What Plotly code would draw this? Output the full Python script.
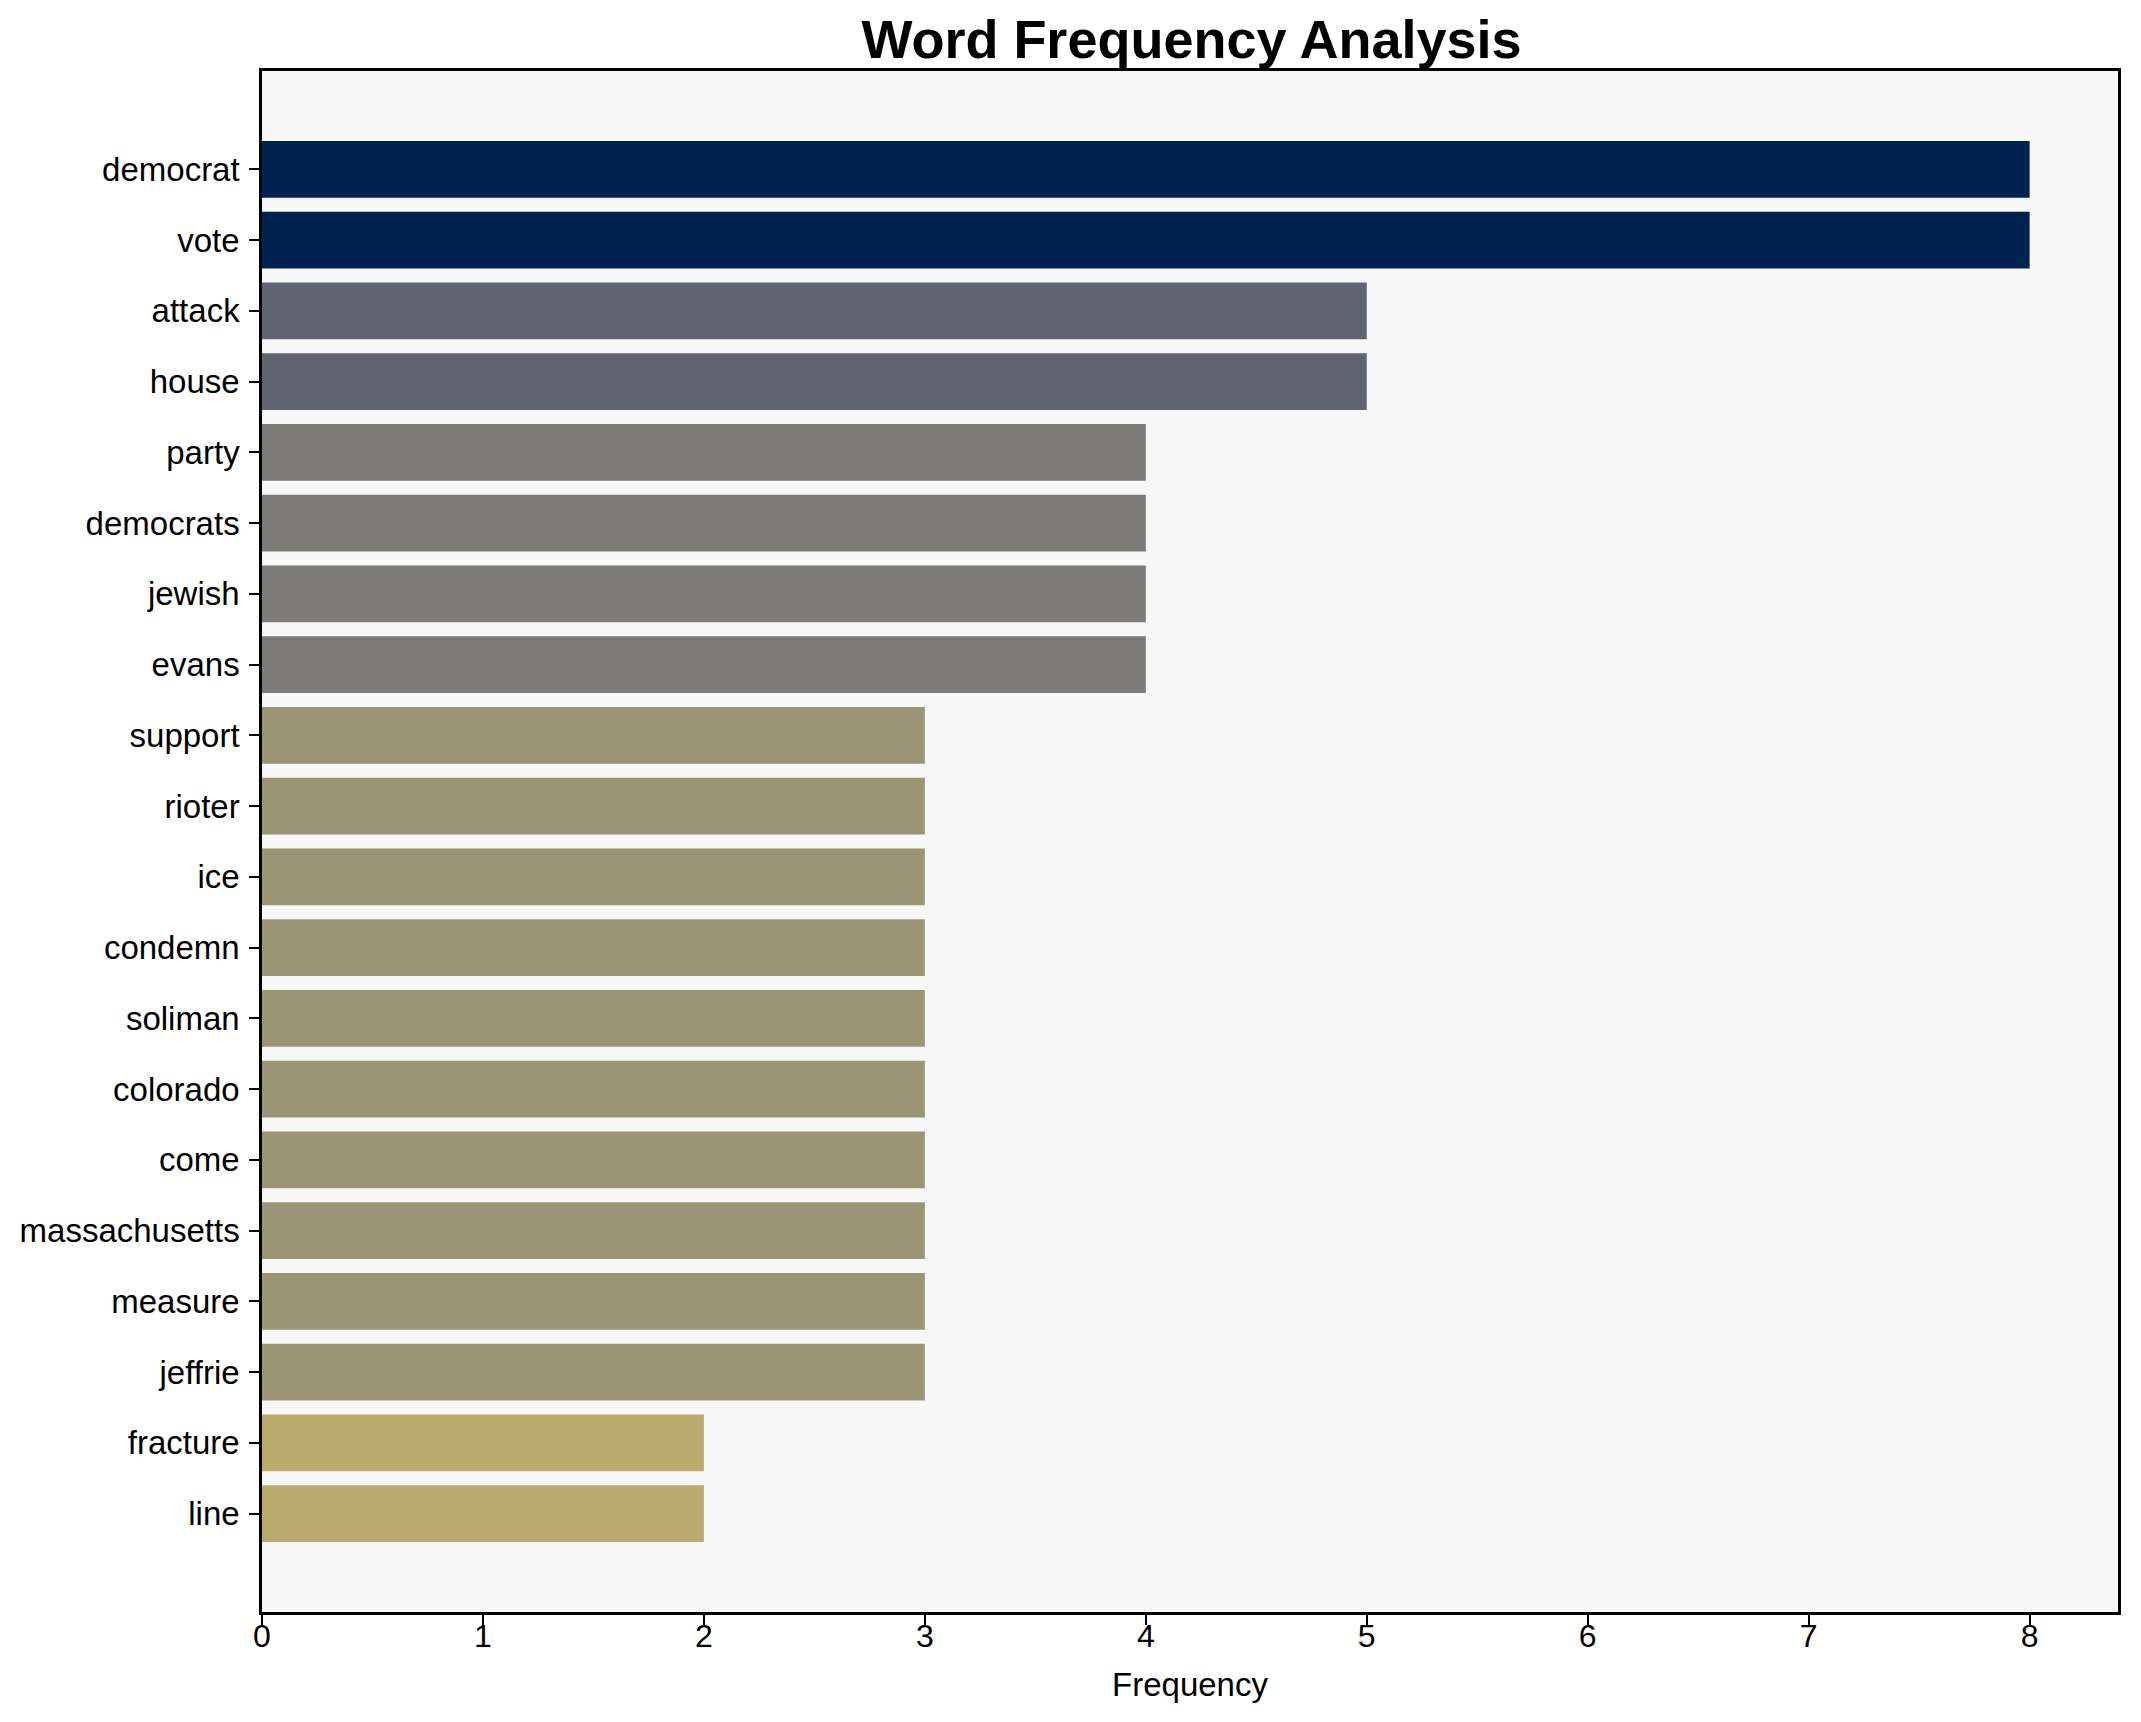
import plotly.graph_objects as go

words = ["democrat", "vote", "attack", "house", "party", "democrats", "jewish", "evans",
         "support", "rioter", "ice", "condemn", "soliman", "colorado", "come",
         "massachusetts", "measure", "jeffrie", "fracture", "line"]
freqs = [8, 8, 5, 5, 4, 4, 4, 4, 3, 3, 3, 3, 3, 3, 3, 3, 3, 3, 2, 2]

# colour per frequency (cividis, reversed, sampled from reference)
color_by_value = {8: "#00224e", 5: "#5f6470", 4: "#7c7b78", 3: "#9b9475", 2: "#b9ac6d"}
colors = [color_by_value[v] for v in freqs]

# page has an 8px body margin; compensate so the figure lands where the reference is
OFF = 8
W, H = 2141 - 2 * OFF, 1722 - 2 * OFF
L, T = 262 - OFF, 71 - OFF
R = (W + OFF) - 2121
B = (H + OFF) - 1612
FONT = "Liberation Sans, Arial, sans-serif"

fig = go.Figure(go.Bar(
    x=freqs, y=list(range(len(words))), orientation="h",
    marker=dict(color=colors, line=dict(width=0)),
    width=0.8,
))

n = len(words)
fig.update_layout(
    width=W, height=H,
    margin=dict(l=L, r=R, t=T, b=B, pad=0),
    paper_bgcolor="white", plot_bgcolor="#f7f7f7",
    showlegend=False,
    font=dict(family=FONT, color="black"),
    title=dict(text="<b>Word Frequency Analysis</b>", x=(L + (W - R)) / 2 / W, xanchor="center",
               y=1 - (39 - OFF) / H, yanchor="middle", yref="container",
               font=dict(size=54, family=FONT, color="black")),
    bargap=0.2,
)
fig.update_xaxes(
    range=[0, 8.4], tickmode="array", tickvals=list(range(0, 9)),
    ticks="outside", ticklen=10, tickwidth=2, tickcolor="black",
    tickfont=dict(size=32, family=FONT, color="black"),
    ticklabelstandoff=-16,
    showline=True, linecolor="black", linewidth=2.5, mirror=True,
    showgrid=False, zeroline=False,
    title=dict(text="Frequency", font=dict(size=33, family=FONT, color="black"), standoff=20),
)
fig.update_yaxes(
    range=[n - 1 + 1.39, -1.39], tickmode="array", tickvals=list(range(n)), ticktext=words,
    ticks="outside", ticklen=10, tickwidth=2, tickcolor="black",
    tickfont=dict(size=33, family=FONT, color="black"),
    ticklabelstandoff=3,
    showline=True, linecolor="black", linewidth=2.5, mirror=True,
    showgrid=False, zeroline=False,
)

fig.write_html("out.html")
